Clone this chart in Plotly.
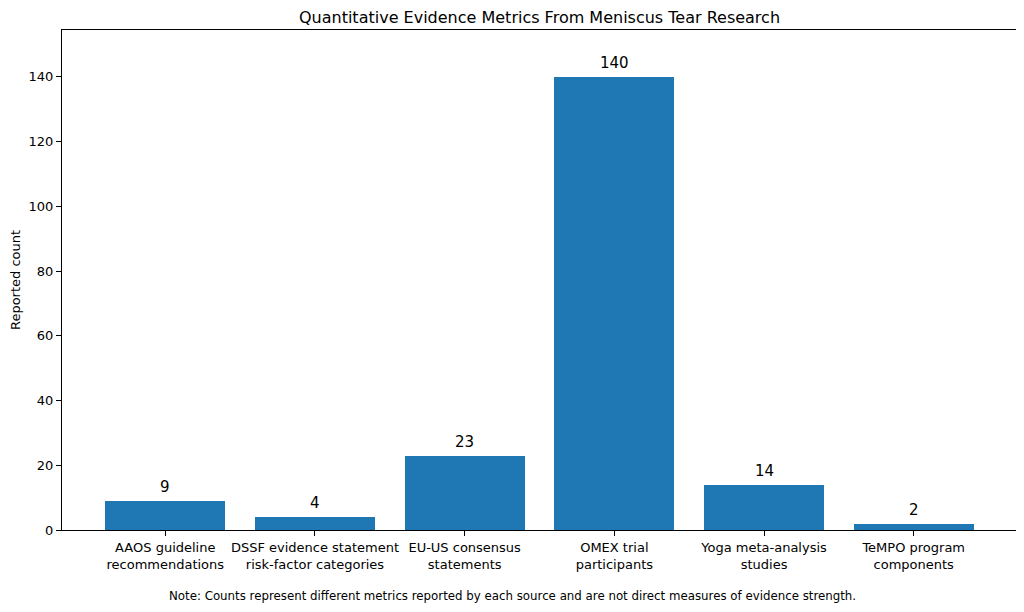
import plotly.graph_objects as go

categories = [
    "AAOS guideline<br>recommendations",
    "DSSF evidence statement<br>risk-factor categories",
    "EU-US consensus<br>statements",
    "OMEX trial<br>participants",
    "Yoga meta-analysis<br>studies",
    "TeMPO program<br>components",
]
counts = [9, 4, 23, 140, 14, 2]
bar_color = "#1f77b4"

fig = go.Figure()
fig.add_trace(go.Bar(
    x=list(range(len(categories))), y=counts,
    width=0.8, marker=dict(color=bar_color, line=dict(width=0)),
))

for i, v in enumerate(counts):
    fig.add_annotation(x=i, y=v, text=str(v), showarrow=False,
                       yanchor="bottom", yshift=3,
                       font=dict(size=15, color="black"))

fig.add_annotation(
    text="Note: Counts represent different metrics reported by each source and are not direct measures of evidence strength.",
    xref="paper", yref="paper", x=0.472, y=-0.132, yanchor="middle",
    showarrow=False, font=dict(size=11.8, color="black"),
)

# page body adds an 8px margin, so the figure is sized to fit the window
fig.update_layout(
    width=1016, height=604,
    margin=dict(l=54, r=7, t=22, b=82, autoexpand=False),
    paper_bgcolor="white", plot_bgcolor="white",
    font=dict(family="DejaVu Sans", color="black", size=13),
    title=dict(text="Quantitative Evidence Metrics From Meniscus Tear Research",
               xref="paper", x=0.5, xanchor="center", y=0.985, yanchor="middle",
               font=dict(size=16)),
    showlegend=False,
    bargap=0,
)
fig.update_xaxes(
    range=[-0.69, 5.69], tickmode="array",
    tickvals=list(range(len(categories))), ticktext=categories,
    showline=True, linecolor="black", linewidth=1, mirror=True,
    ticks="outside", ticklen=5, tickcolor="black", showgrid=False,
    zeroline=False, tickangle=0, automargin=False,
    tickfont=dict(size=13),
)
fig.update_yaxes(
    range=[0, 154.5], dtick=20,
    title=dict(text="Reported count", standoff=8, font=dict(size=13)),
    showline=True, linecolor="black", linewidth=1, mirror=True,
    ticks="outside", ticklen=5, tickcolor="black", showgrid=False,
    zeroline=False, automargin=False, tickfont=dict(size=13),
)

fig.write_html("out.html")
